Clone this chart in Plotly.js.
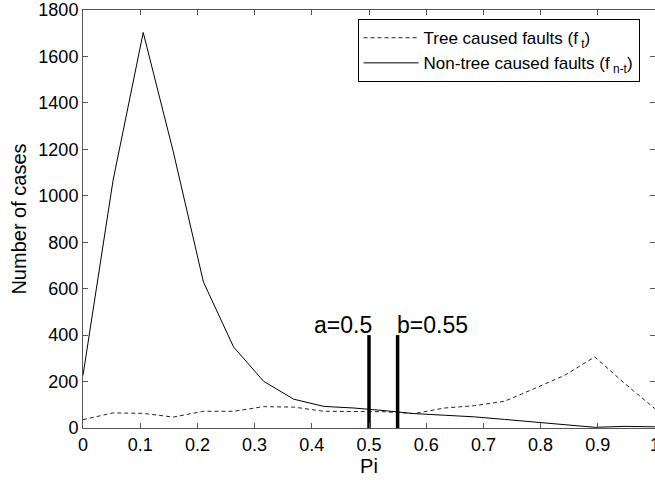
<!DOCTYPE html>
<html>
<head>
<meta charset="utf-8">
<script src="https://cdn.plot.ly/plotly-3.0.1.min.js"></script>
<style>html,body{margin:0;padding:0;background:#fff;}#chart{width:655px;height:480px;}</style>
</head>
<body>
<div id="chart"></div>
<script>
// Pi bins (20 points from 0 to 1)
const pi = [0, 0.0526, 0.1053, 0.1579, 0.2105, 0.2632, 0.3158, 0.3684, 0.4211, 0.4737,
            0.5263, 0.5789, 0.6316, 0.6842, 0.7368, 0.7895, 0.8421, 0.8947, 0.9474, 1];
// Tree caused faults (f_t)
const treeFaults = [36, 65, 63, 47, 72, 72, 92, 90, 72, 72,
                    70, 62, 86, 96, 115, 170, 227, 306, 191, 83];
// Non-tree caused faults (f_n-t)
const nonTreeFaults = [227, 1067, 1703, 1189, 629, 349, 201, 124, 93, 86,
                       75, 62, 55, 48, 37, 25, 15, 3, 7, 5];
// Threshold markers
const thresholdX = [0.5, 0.55];
const thresholdHeight = 400;
const thresholdLabels = ["a=0.5", "b=0.55"];
const thresholdLabelX = [0.40, 0.545];
const thresholdLabelY = 445;

const xTicks = [0, 0.1, 0.2, 0.3, 0.4, 0.5, 0.6, 0.7, 0.8, 0.9, 1];
const xTickText = ["0", "0.1", "0.2", "0.3", "0.4", "0.5", "0.6", "0.7", "0.8", "0.9", "1"];
const yTicks = [0, 200, 400, 600, 800, 1000, 1200, 1400, 1600, 1800];

const FONT = 'Liberation Sans, Arial, sans-serif';

const traces = [
  {x: pi, y: treeFaults, type: 'scatter', mode: 'lines', name: 'Tree caused faults (f<sub> t</sub>)',
   line: {color: '#222', width: 1, dash: '4px,3px'}},
  {x: pi, y: nonTreeFaults, type: 'scatter', mode: 'lines', name: 'Non-tree caused faults (f<sub> n-t</sub>)',
   line: {color: '#000', width: 1}}
];
thresholdX.forEach(function (tx) {
  traces.push({x: [tx, tx], y: [0, thresholdHeight], type: 'scatter', mode: 'lines',
    showlegend: false, hoverinfo: 'skip', line: {color: '#000', width: 3.5}});
});

const annotations = thresholdLabels.map(function (t, i) {
  return {x: thresholdLabelX[i], y: thresholdLabelY, xref: 'x', yref: 'y', text: t,
    showarrow: false, xanchor: 'left', yanchor: 'middle',
    font: {family: FONT, size: 23, color: '#000'}};
});

const axisCommon = {
  showline: true, linecolor: '#555', linewidth: 1, mirror: 'ticks',
  ticks: 'inside', ticklen: 5, tickcolor: '#555', tickwidth: 1,
  showgrid: false, zeroline: false, automargin: false, ticklabeloverflow: 'allow',
  tickfont: {family: FONT, size: 18, color: '#000'}
};

const layout = {
  width: 655, height: 480,
  margin: {l: 83, r: 0, t: 10, b: 52},
  paper_bgcolor: '#fff', plot_bgcolor: '#fff',
  font: {family: FONT, color: '#000'},
  xaxis: Object.assign({}, axisCommon, {
    range: [0, 1], tickvals: xTicks, ticktext: xTickText,
    title: {text: 'Pi', font: {size: 20, family: FONT}, standoff: 4}
  }),
  yaxis: Object.assign({}, axisCommon, {
    range: [0, 1800], tickvals: yTicks,
    title: {text: 'Number of cases', font: {size: 20, family: FONT}, standoff: 6}
  }),
  legend: {
    x: 0.48, y: 0.978, xanchor: 'left', yanchor: 'top',
    bordercolor: '#000', borderwidth: 1, bgcolor: '#fff',
    itemwidth: 55, tracegroupgap: 0,
    font: {family: FONT, size: 17, color: '#000'}
  },
  annotations: annotations,
  showlegend: true
};

Plotly.newPlot('chart', traces, layout, {displayModeBar: false, staticPlot: true});
</script>
</body>
</html>
